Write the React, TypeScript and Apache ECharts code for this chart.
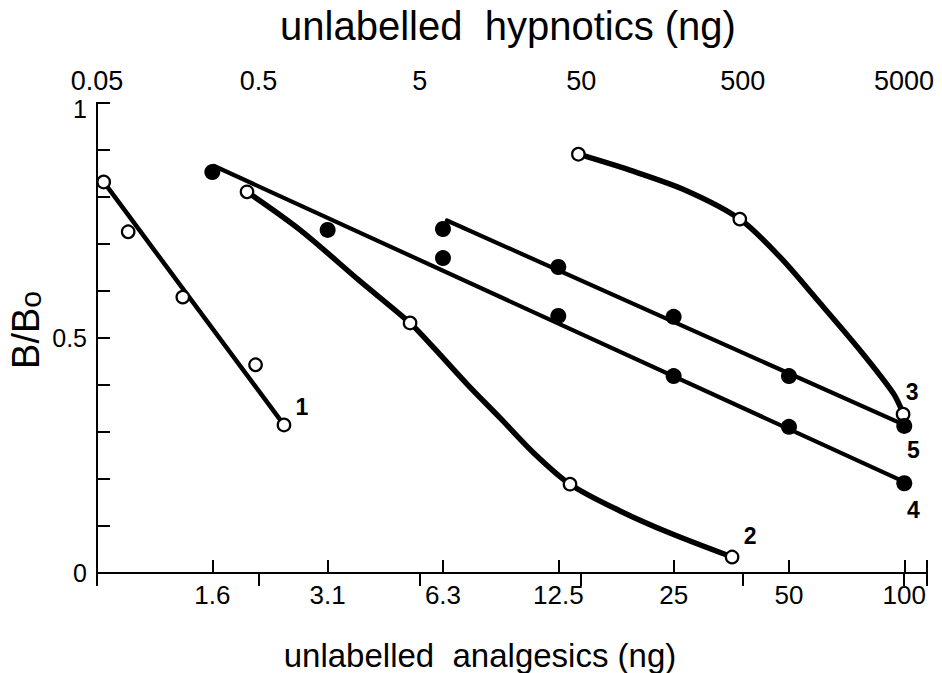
import React, { useEffect, useRef } from 'react';
import * as echarts from 'echarts';

// ---- axis tick labels ----
const TOP_TICK_LABELS = ['0.05', '0.5', '5', '50', '500', '5000'];
const BOTTOM_TICK_LABELS = ['1.6', '3.1', '6.3', '12.5', '25', '50', '100'];
const Y_TICK_VALUES = [0, 0.5, 1];
const Y_TICK_LABELS = ['0', '0.5', '1'];

// ---- curve 1 (open circles, hypnotics ng) ----
const c1X = [0.055, 0.078, 0.17, 0.48, 0.72];
const c1Y = [0.832, 0.726, 0.587, 0.443, 0.315];
const c1LineX = [0.055, 0.72];
const c1LineY = [0.832, 0.315];

// ---- curve 2 (open circles, hypnotics ng) ----
const c2X = [0.425, 4.35, 42.6, 430];
const c2Y = [0.811, 0.532, 0.189, 0.034];
const c2TraceX = [0.425, 0.905, 2.13, 4.35, 6.03, 9.8, 15.7, 25.1, 42.6, 87, 177, 430];
const c2TraceY = [0.811, 0.73, 0.621, 0.532, 0.481, 0.402, 0.33, 0.257, 0.189, 0.132, 0.085, 0.034];

// ---- curve 3 (open circles, hypnotics ng) ----
const c3X = [48, 480, 4930];
const c3Y = [0.891, 0.753, 0.338];
const c3TraceX = [48, 100, 226, 480, 853, 1510, 2667, 4275, 4930];
const c3TraceY = [0.891, 0.857, 0.813, 0.753, 0.672, 0.574, 0.474, 0.383, 0.34];

// ---- curve 4 (filled circles, analgesics ng) ----
const c4X = [1.5625, 3.125, 6.25, 12.5, 25, 50, 100];
const c4Y = [0.853, 0.73, 0.67, 0.547, 0.419, 0.311, 0.191];
const c4LineX = [1.58, 100];
const c4LineY = [0.866, 0.194];

// ---- curve 5 (filled circles, analgesics ng) ----
const c5X = [6.25, 12.5, 25, 50, 100];
const c5Y = [0.732, 0.651, 0.545, 0.419, 0.313];
const c5LineX = [6.4, 100];
const c5LineY = [0.75, 0.315];

const CURVE_NAMES = ['1', '2', '3', '4', '5'];

// axis scale references (ng at the left edge of each axis)
const HYP_LEFT = 0.05;
const ANA_LEFT = 0.78125;

const FONT = '"Liberation Sans", Arial, Helvetica, sans-serif';

const hyp = (ng: number) => Math.log10(ng / HYP_LEFT);
const ana = (ng: number) => Math.log2(ng / ANA_LEFT);
const pts = (xs: number[], ys: number[], f: (v: number) => number) =>
  xs.map((x, i) => [f(x), ys[i]]);

const isInt = (v: number) => Math.abs(v - Math.round(v)) < 1e-6;

export default function App() {
  const ref = useRef<HTMLDivElement>(null);

  useEffect(() => {
    if (!ref.current) return;
    const chart = echarts.init(ref.current, undefined, { renderer: 'svg' });

    const lineSeries = (data: number[][], xAxisIndex: number, width: number, smooth: number | boolean) => ({
      type: 'line',
      xAxisIndex,
      yAxisIndex: 0,
      data,
      symbol: 'none',
      showSymbol: false,
      smooth,
      silent: true,
      z: 2,
      lineStyle: { color: '#000', width, cap: 'round', join: 'round' },
    });

    const markerSeries = (
      data: number[][],
      xAxisIndex: number,
      open: boolean,
      name: string,
      offset: number[]
    ) => ({
      type: 'scatter',
      xAxisIndex,
      yAxisIndex: 0,
      z: open ? 3 : 4,
      symbol: 'circle',
      symbolSize: open ? 12.5 : 16,
      itemStyle: open
        ? { color: '#fff', borderColor: '#000', borderWidth: 2.2, opacity: 1 }
        : { color: '#000', borderWidth: 0, opacity: 1 },
      data: data.map((d, i) =>
        i === data.length - 1
          ? {
              value: d,
              label: {
                show: true,
                position: 'inside',
                offset,
                formatter: name,
                color: '#000',
                fontSize: 23,
                fontWeight: 'bold',
                fontFamily: FONT,
              },
            }
          : { value: d }
      ),
    });

    const tickStyle = { color: '#000', width: 2 };

    chart.setOption({
      animation: false,
      backgroundColor: '#fff',
      grid: { left: 97, right: 15, top: 103, bottom: 100, containLabel: false },
      xAxis: [
        {
          type: 'value',
          position: 'bottom',
          min: 0,
          max: 7.197,
          interval: 1,
          axisLine: { show: true, lineStyle: { color: '#000', width: 2 } },
          axisTick: { show: true, inside: true, length: 13, lineStyle: tickStyle },
          splitLine: { show: false },
          axisLabel: {
            show: true,
            margin: 9,
            color: '#000',
            fontSize: 26,
            fontFamily: FONT,
            formatter: (v: number) =>
              isInt(v) && v >= 1 && v <= BOTTOM_TICK_LABELS.length
                ? BOTTOM_TICK_LABELS[Math.round(v) - 1]
                : '',
          },
        },
        {
          type: 'value',
          position: 'top',
          min: 0,
          max: 5.142,
          interval: 1,
          axisLine: { show: true, lineStyle: { color: '#000', width: 2 } },
          axisTick: { show: true, inside: true, length: 13, lineStyle: tickStyle },
          splitLine: { show: false },
          axisLabel: {
            show: true,
            margin: 9,
            color: '#000',
            fontSize: 27,
            fontFamily: FONT,
            formatter: (v: number) =>
              isInt(v) && v >= 0 && v < TOP_TICK_LABELS.length
                ? TOP_TICK_LABELS[Math.round(v)]
                : '',
          },
        },
      ],
      yAxis: [
        {
          type: 'value',
          position: 'left',
          min: 0,
          max: 1,
          interval: 0.1,
          axisLine: { show: true, lineStyle: { color: '#000', width: 2 } },
          axisTick: { show: true, inside: true, length: 13, lineStyle: tickStyle },
          splitLine: { show: false },
          axisLabel: {
            show: true,
            margin: 10,
            color: '#000',
            fontSize: 25,
            fontFamily: FONT,
            formatter: (v: number) => {
              const i = Y_TICK_VALUES.findIndex((t) => Math.abs(t - v) < 1e-6);
              if (i < 0) return '';
              return i === Y_TICK_VALUES.length - 1 ? '{low|' + Y_TICK_LABELS[i] + '}' : Y_TICK_LABELS[i];
            },
            rich: {
              low: { fontSize: 25, fontFamily: FONT, color: '#000', padding: [12, 0, 0, 0] },
            },
          },
        },
        {
          type: 'value',
          position: 'right',
          min: 0,
          max: 1,
          axisLine: { show: true, lineStyle: { color: '#000', width: 2 } },
          axisTick: { show: false },
          axisLabel: { show: false },
          splitLine: { show: false },
        },
      ],
      series: [
        lineSeries(pts(c1LineX, c1LineY, hyp), 1, 4.5, false),
        lineSeries(pts(c2TraceX, c2TraceY, hyp), 1, 5.5, 0.3),
        lineSeries(pts(c3TraceX, c3TraceY, hyp), 1, 5.5, 0.3),
        lineSeries(pts(c4LineX, c4LineY, ana), 0, 4.2, false),
        lineSeries(pts(c5LineX, c5LineY, ana), 0, 4.2, false),
        markerSeries(pts(c1X, c1Y, hyp), 1, true, CURVE_NAMES[0], [18, -18]),
        markerSeries(pts(c2X, c2Y, hyp), 1, true, CURVE_NAMES[1], [18, -21]),
        markerSeries(pts(c3X, c3Y, hyp), 1, true, CURVE_NAMES[2], [9, -22]),
        markerSeries(pts(c4X, c4Y, ana), 0, false, CURVE_NAMES[3], [9, 27]),
        markerSeries(pts(c5X, c5Y, ana), 0, false, CURVE_NAMES[4], [9, 24]),
      ],
      graphic: [
        {
          type: 'text',
          x: 508,
          y: 26,
          style: {
            text: 'unlabelled  hypnotics (ng)',
            fontSize: 40,
            fontFamily: FONT,
            fill: '#000',
            align: 'center',
            verticalAlign: 'middle',
          },
        },
        {
          type: 'text',
          x: 480,
          y: 655,
          style: {
            text: 'unlabelled  analgesics (ng)',
            fontSize: 33,
            fontFamily: FONT,
            fill: '#000',
            align: 'center',
            verticalAlign: 'middle',
          },
        },
        {
          type: 'text',
          x: 26,
          y: 330,
          rotation: Math.PI / 2,
          style: {
            text: 'B/B{s|o}',
            fontSize: 38,
            fontFamily: FONT,
            fill: '#000',
            align: 'center',
            verticalAlign: 'middle',
            rich: {
              s: { fontSize: 30, fontFamily: FONT, fill: '#000', lineHeight: 20, verticalAlign: 'bottom' },
            },
          },
        },
      ],
    });

    return () => chart.dispose();
  }, []);

  return (
    <div
      ref={ref}
      style={{ position: 'fixed', left: 0, top: 0, width: 942, height: 673, background: '#fff' }}
    />
  );
}
